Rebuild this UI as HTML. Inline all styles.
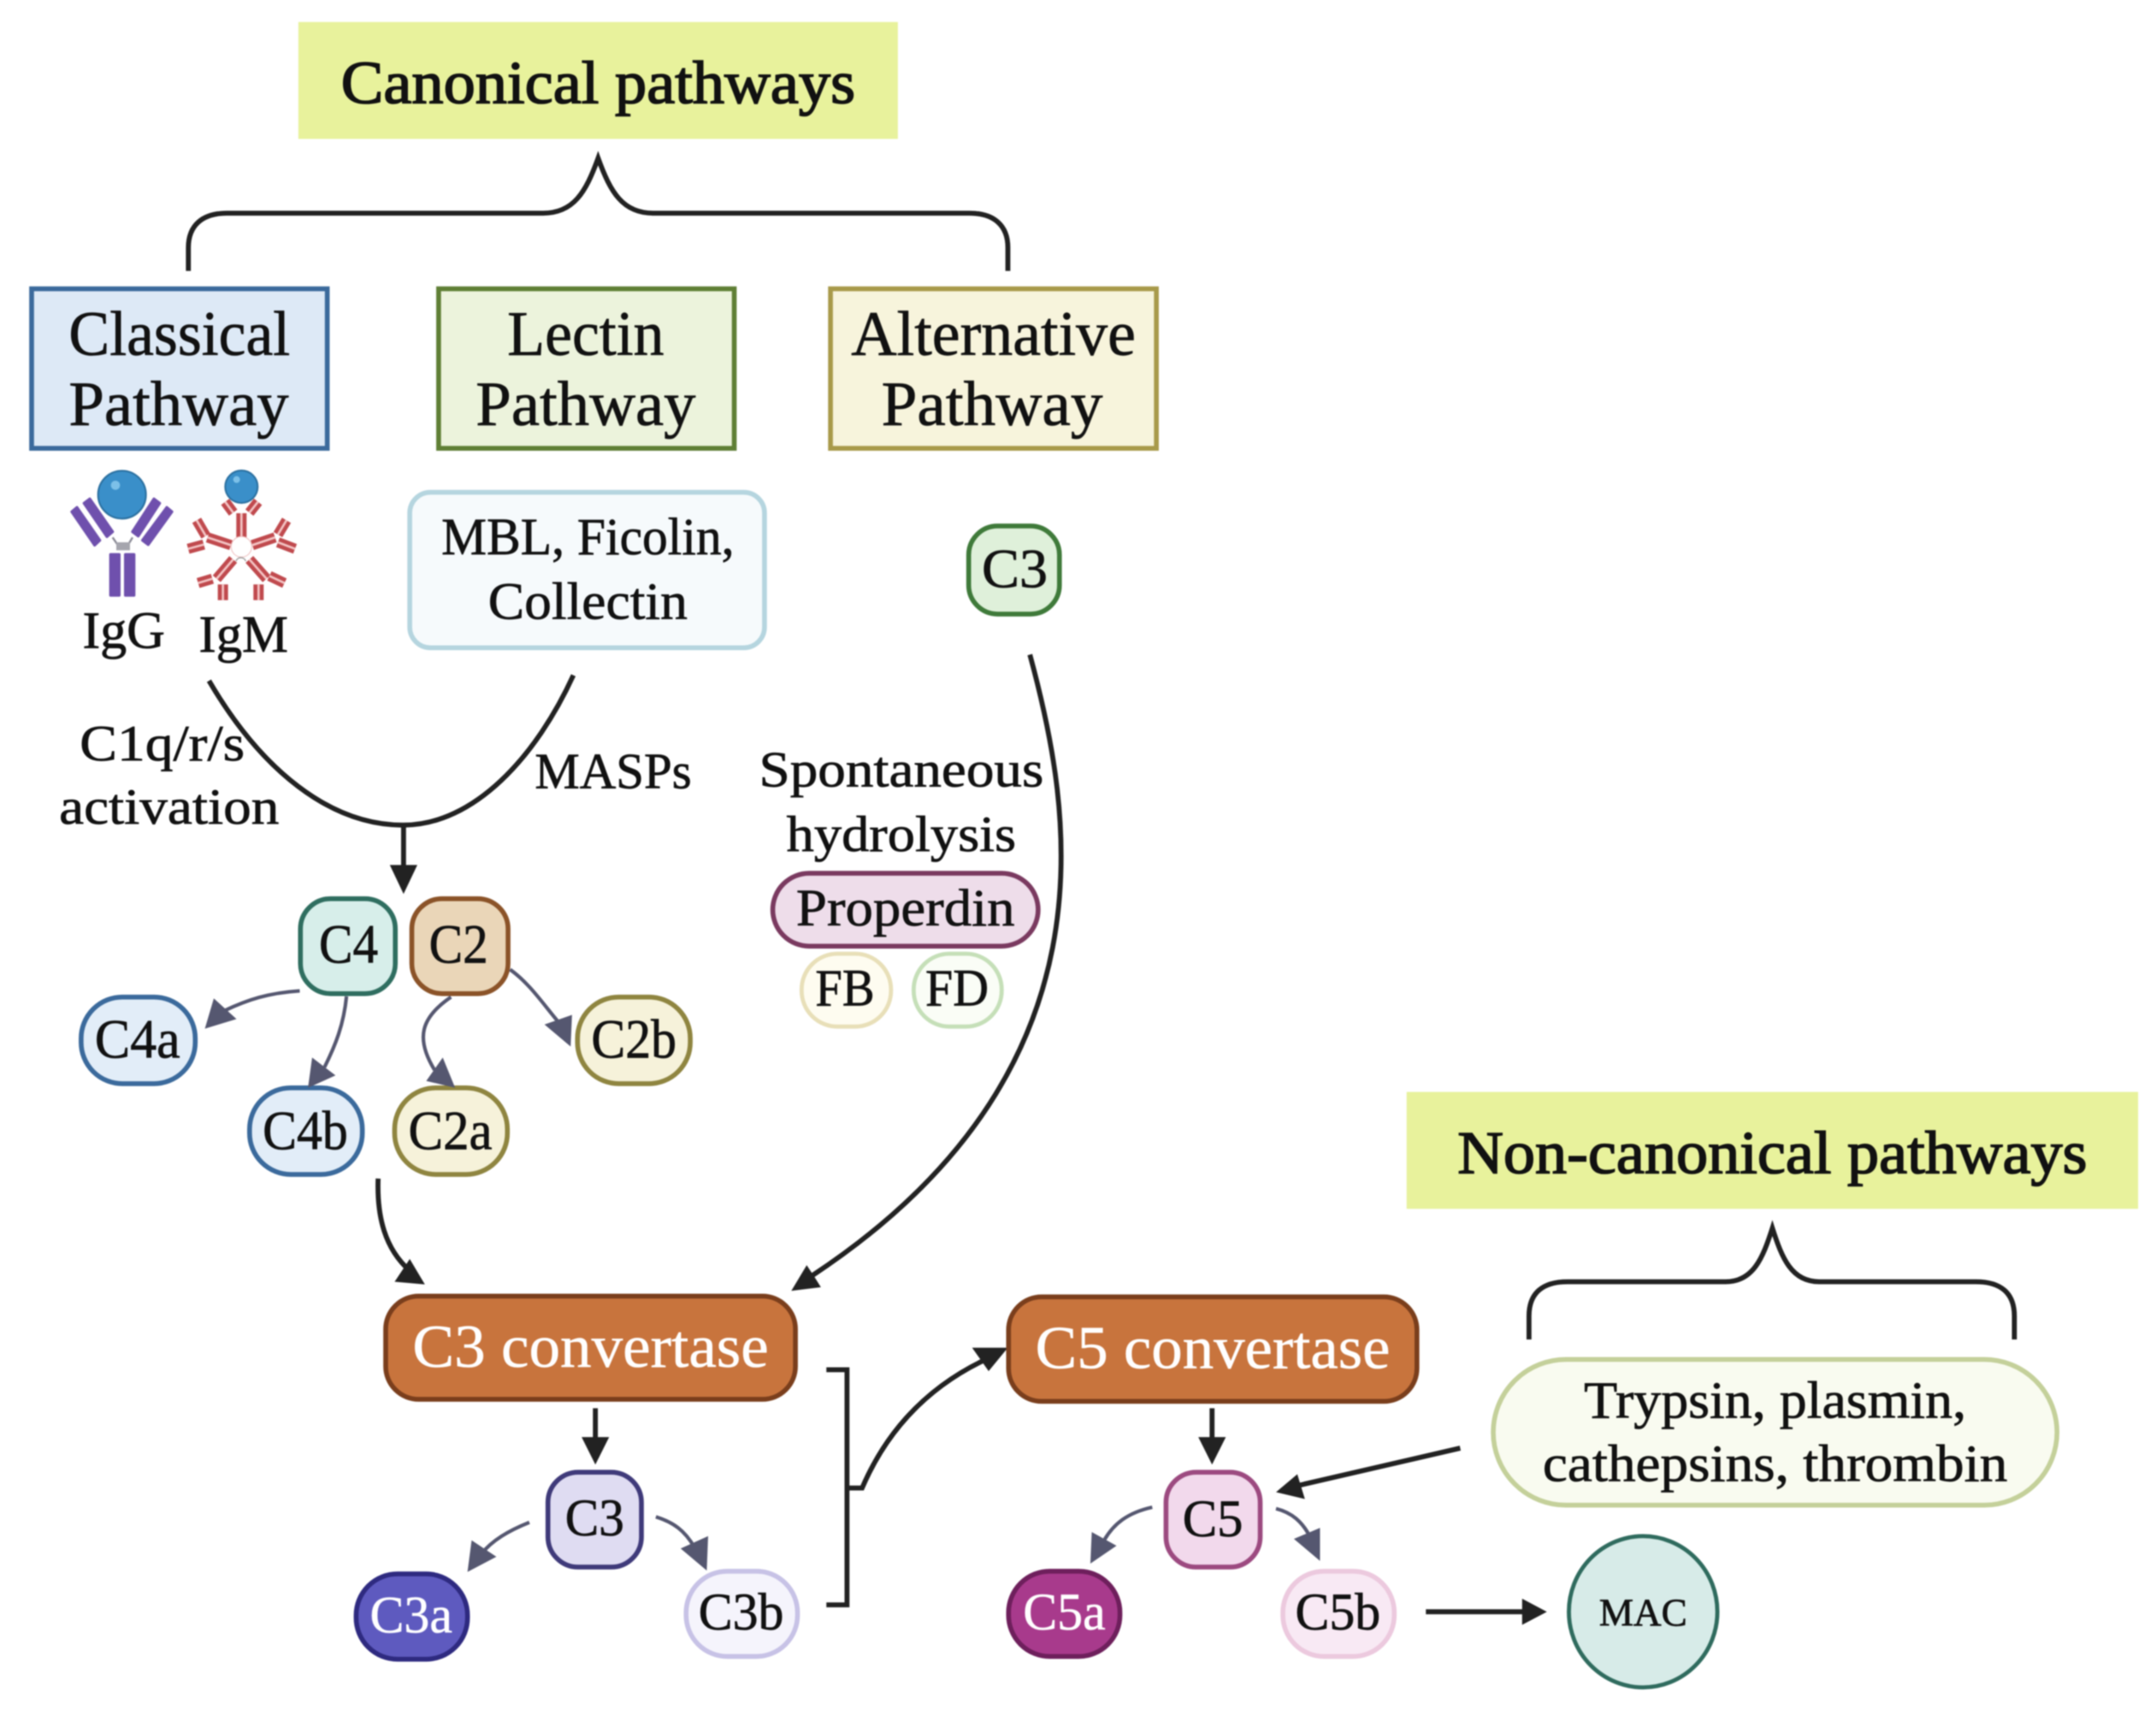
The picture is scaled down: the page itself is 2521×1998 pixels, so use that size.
<!DOCTYPE html>
<html><head><meta charset="utf-8"><style>
html,body{margin:0;padding:0;background:#fff;width:2521px;height:1998px;overflow:hidden}
svg{display:block;position:absolute;left:0;top:0;filter:blur(.9px)}
text{font-family:"Liberation Serif",serif;fill:#111;stroke:#111;stroke-width:.45}
.h{stroke-width:1}
.w{fill:#fff;stroke:#fff;stroke-width:.35}
.k{fill:none;stroke:#222;stroke-width:3.6}
.g{fill:none;stroke:#555770;stroke-width:2.6}
.ah{fill:#222}.ag{fill:#555770}
</style></head><body>
<svg width="2521" height="1998" viewBox="0 0 1568 1242.7" xmlns="http://www.w3.org/2000/svg">
<rect x="0" y="0" width="1568" height="1243" fill="#fff"/>

<!-- headers -->
<rect x="217" y="16" width="436" height="85" fill="#e8f29c"/>
<text class="h" x="248" y="75" font-size="44" textLength="374" lengthAdjust="spacingAndGlyphs">Canonical pathways</text>
<rect x="1023" y="794" width="532" height="85" fill="#e8f29c"/>
<text class="h" x="1060" y="853" font-size="44" textLength="458" lengthAdjust="spacingAndGlyphs">Non-canonical pathways</text>

<!-- braces -->
<path class="k" d="M137 197 L137 180 C137 164 147 155 165 155 L395 155 C417 155 426 140 435 115 C444 140 453 155 475 155 L705 155 C723 155 733 164 733 180 L733 197"/>
<path class="k" d="M1112 974 L1112 957 C1112 940 1122 932 1140 932 L1255 932 C1275 932 1282 915 1289 893 C1296 915 1303 932 1323 932 L1437 932 C1455 932 1465 940 1465 957 L1465 974"/>

<!-- pathway boxes -->
<rect x="23" y="210" width="215" height="116" fill="#dde9f6" stroke="#3b6a9c" stroke-width="3.5"/>
<text x="50" y="258" font-size="46" textLength="161" lengthAdjust="spacingAndGlyphs">Classical</text>
<text x="50" y="309" font-size="46" textLength="160" lengthAdjust="spacingAndGlyphs">Pathway</text>
<rect x="319" y="210" width="215" height="116" fill="#ecf3dc" stroke="#5f7f35" stroke-width="3.5"/>
<text x="369" y="258" font-size="46" textLength="114" lengthAdjust="spacingAndGlyphs">Lectin</text>
<text x="346" y="309" font-size="46" textLength="160" lengthAdjust="spacingAndGlyphs">Pathway</text>
<rect x="604" y="210" width="237" height="116" fill="#f7f4dc" stroke="#a89a4a" stroke-width="3.5"/>
<text x="619" y="258" font-size="46" textLength="207" lengthAdjust="spacingAndGlyphs">Alternative</text>
<text x="641" y="309" font-size="46" textLength="161" lengthAdjust="spacingAndGlyphs">Pathway</text>

<!-- antibodies -->
<g transform="scale(.62195) translate(50 530) scale(.33333)">
  <g fill="#6f50ad" stroke="#6f50ad" stroke-width="10" stroke-linejoin="round">
    <polygon points="102,205 120,190 200,305 182,322"/>
    <polygon points="145,175 165,160 245,275 225,292"/>
    <polygon points="315,275 335,290 410,175 390,160"/>
    <polygon points="350,305 370,320 453,205 435,190"/>
    <rect x="238" y="355" width="30" height="143"/>
    <rect x="290" y="355" width="30" height="143"/>
  </g>
  <path d="M245 295 L262 320 M315 295 L300 320" stroke="#8a8a95" stroke-width="7" fill="none"/>
  <rect x="258" y="312" width="48" height="28" fill="#a5a5ad"/>
  <circle cx="278" cy="145" r="84" fill="#3a8fc9" stroke="#2a6f9f" stroke-width="6"/>
  <circle cx="255" cy="112" r="16" fill="#7cc0e8"/>
  <g fill="none" stroke="#c04a4e" stroke-width="36">
    <path d="M697 210V295M640 170L668 208M755 170L725 208M660 322L578 295M572 290L540 235M565 320L510 335M735 322L815 295M825 285L855 235M825 312L885 335M668 372L610 440M595 440L545 455M632 460V515M725 372L785 440M795 430L848 455M757 460V515"/>
  </g>
  <g fill="none" stroke="#f3c4c4" stroke-width="8">
    <path d="M697 210V295M640 170L668 208M755 170L725 208M660 322L578 295M572 290L540 235M565 320L510 335M735 322L815 295M825 285L855 235M825 312L885 335M668 372L610 440M595 440L545 455M632 460V515M725 372L785 440M795 430L848 455M757 460V515"/>
  </g>
  <circle cx="697" cy="328" r="36" fill="#fff" stroke="#eebcbc" stroke-width="3"/>
  <path d="M678 378 A18 18 0 0 1 712 378" fill="#fff" stroke="#999" stroke-width="4"/>
  <circle cx="697" cy="117" r="57" fill="#3a8fc9" stroke="#2a6f9f" stroke-width="6"/>
  <circle cx="680" cy="92" r="12" fill="#7cc0e8"/>
</g>
<text x="60" y="471" font-size="38" textLength="60" lengthAdjust="spacingAndGlyphs">IgG</text>
<text x="144.600" y="474" font-size="38" textLength="65" lengthAdjust="spacingAndGlyphs">IgM</text>

<!-- MBL -->
<rect x="298" y="358" width="258" height="113" rx="15" fill="#f6fafc" stroke="#b5d5df" stroke-width="3.5"/>
<text x="321" y="403" font-size="38" textLength="213" lengthAdjust="spacingAndGlyphs">MBL, Ficolin,</text>
<text x="355" y="450" font-size="38" textLength="145" lengthAdjust="spacingAndGlyphs">Collectin</text>

<!-- top C3 -->
<rect x="704.500" y="382.500" width="66" height="64" rx="21" fill="#dff0da" stroke="#3f7a3a" stroke-width="3.5"/>
<text x="714" y="427" font-size="40" textLength="48" lengthAdjust="spacingAndGlyphs">C3</text>

<!-- U connector -->
<path class="k" d="M152 495 C190 560 240 600 293 600 C345 600 390 550 417 491"/>
<path class="k" d="M293.500 600 V632"/>
<polygon class="ah" points="283.500,629 303.500,629 293.500,650"/>
<text x="58" y="553" font-size="37" textLength="120" lengthAdjust="spacingAndGlyphs">C1q/r/s</text>
<text x="43" y="599" font-size="37" textLength="160" lengthAdjust="spacingAndGlyphs">activation</text>
<text x="389" y="573" font-size="37" textLength="114" lengthAdjust="spacingAndGlyphs">MASPs</text>

<!-- alternative -->
<text x="552" y="572" font-size="37" textLength="207" lengthAdjust="spacingAndGlyphs">Spontaneous</text>
<text x="572" y="619" font-size="37" textLength="167" lengthAdjust="spacingAndGlyphs">hydrolysis</text>
<rect x="562" y="635" width="193" height="53" rx="26.500" fill="#eeddea" stroke="#7a3a60" stroke-width="3.5"/>
<text x="579" y="673" font-size="38" textLength="159" lengthAdjust="spacingAndGlyphs">Properdin</text>
<rect x="583" y="693.500" width="65" height="53" rx="26" fill="#fefcf0" stroke="#e8dfb8" stroke-width="3"/>
<text x="593" y="731" font-size="38" textLength="43" lengthAdjust="spacingAndGlyphs">FB</text>
<rect x="664.500" y="693.500" width="64" height="53" rx="26" fill="#fafdf6" stroke="#c5dfb8" stroke-width="3"/>
<text x="673" y="731" font-size="38" textLength="46" lengthAdjust="spacingAndGlyphs">FD</text>

<path class="k" d="M749 476 C780 590 815 780 590 928"/>
<polygon class="ah" points="575.500,938.600 586.700,920 592,928 597,936"/>

<!-- C4/C2 -->
<rect x="218.500" y="653.500" width="69" height="69" rx="22" fill="#d7eeea" stroke="#2f6e60" stroke-width="3.5"/>
<text x="232" y="700" font-size="40" textLength="43" lengthAdjust="spacingAndGlyphs">C4</text>
<rect x="299.500" y="653.500" width="70" height="69" rx="22" fill="#ead6b8" stroke="#8b5328" stroke-width="3.5"/>
<text x="312" y="700" font-size="40" textLength="43" lengthAdjust="spacingAndGlyphs">C2</text>
<rect x="59" y="725" width="83" height="63" rx="30" fill="#e2edf8" stroke="#3b6a9c" stroke-width="3.5"/>
<text x="69" y="769" font-size="40" textLength="62" lengthAdjust="spacingAndGlyphs">C4a</text>
<rect x="181.500" y="791" width="82" height="63" rx="30" fill="#e2edf8" stroke="#3b6a9c" stroke-width="3.5"/>
<text x="191" y="835.500" font-size="40" textLength="62" lengthAdjust="spacingAndGlyphs">C4b</text>
<rect x="287" y="791" width="82" height="63" rx="30" fill="#f6f2da" stroke="#8f8540" stroke-width="3.5"/>
<text x="297" y="835.500" font-size="40" textLength="61" lengthAdjust="spacingAndGlyphs">C2a</text>
<rect x="420" y="725" width="82" height="63" rx="30" fill="#f6f2da" stroke="#8f8540" stroke-width="3.5"/>
<text x="430" y="769" font-size="40" textLength="62" lengthAdjust="spacingAndGlyphs">C2b</text>

<path class="g" d="M218 720.500 C195 722 180 727 163 735"/>
<polygon class="ag" points="149,748 155.500,726 172,741"/>
<path class="g" d="M252 724.500 C250 745 244 760 236 776"/>
<polygon class="ag" points="224,791 227,769 244,782"/>
<path class="g" d="M328 725 C306 740 302 755 316 778"/>
<polygon class="ag" points="331,791 322,769 310,786"/>
<path class="g" d="M371 705 C385 715 395 730 406 743"/>
<polygon class="ag" points="415,761 396,745 416,738"/>

<path class="k" d="M275 857 C274 885 280 908 298 924"/>
<polygon class="ah" points="309,934 298,915.500 287,932"/>

<!-- C3 convertase -->
<rect x="280.500" y="942.500" width="298" height="75" rx="24" fill="#c8743d" stroke="#7a3e1c" stroke-width="3.5"/>
<text class="w" x="300" y="994" font-size="44" textLength="259" lengthAdjust="spacingAndGlyphs">C3 convertase</text>
<path class="k" d="M433 1024 V1048"/>
<polygon class="ah" points="423,1045 443,1045 433,1065"/>
<rect x="398.500" y="1070.500" width="68" height="69" rx="22" fill="#dfdcf2" stroke="#3f3a7a" stroke-width="3.5"/>
<text x="411" y="1116.500" font-size="38" textLength="43" lengthAdjust="spacingAndGlyphs">C3</text>
<rect x="259" y="1144.500" width="81" height="62" rx="30" fill="#5e5abf" stroke="#2e2a80" stroke-width="3.5"/>
<text class="w" x="269" y="1187" font-size="38" textLength="60" lengthAdjust="spacingAndGlyphs">C3a</text>
<rect x="499" y="1142.500" width="81" height="62" rx="30" fill="#f5f4fc" stroke="#c7c2e6" stroke-width="3.5"/>
<text x="508" y="1185" font-size="38" textLength="62" lengthAdjust="spacingAndGlyphs">C3b</text>
<path class="g" d="M385 1107 C370 1113 358 1120 350 1130"/>
<polygon class="ag" points="340,1143 343,1120 361,1132"/>
<path class="g" d="M477 1103 C490 1107 498 1113 505 1125"/>
<polygon class="ag" points="514,1142 495,1126 515,1117"/>

<!-- bracket -->
<path class="k" d="M601 996 H616 V1167 H601"/>
<path class="k" d="M617 1082 H627 C645 1040 675 1008 718 988"/>
<polygon class="ah" points="733,980 707,980 719,997"/>

<!-- C5 convertase -->
<rect x="733.500" y="943" width="297" height="76" rx="24" fill="#c8743d" stroke="#7a3e1c" stroke-width="3.5"/>
<text class="w" x="753" y="995" font-size="44" textLength="258" lengthAdjust="spacingAndGlyphs">C5 convertase</text>
<path class="k" d="M881.500 1024 V1048"/>
<polygon class="ah" points="871.500,1045 891.500,1045 881.500,1065"/>
<rect x="848" y="1070.500" width="68.500" height="69" rx="22" fill="#f2d9ec" stroke="#9c4a80" stroke-width="3.5"/>
<text x="860" y="1117" font-size="38" textLength="44" lengthAdjust="spacingAndGlyphs">C5</text>
<rect x="733.500" y="1142.500" width="81" height="62" rx="30" fill="#a83a8c" stroke="#6e1f5c" stroke-width="3.5"/>
<text class="w" x="744" y="1185" font-size="38" textLength="60" lengthAdjust="spacingAndGlyphs">C5a</text>
<rect x="933" y="1142.500" width="81" height="62" rx="30" fill="#f8e9f4" stroke="#ecc9de" stroke-width="3.5"/>
<text x="942" y="1185" font-size="38" textLength="62" lengthAdjust="spacingAndGlyphs">C5b</text>
<path class="g" d="M838 1096 C820 1100 810 1108 803 1120"/>
<polygon class="ag" points="793,1137 794,1114 812,1124"/>
<path class="g" d="M928 1097 C940 1100 947 1107 952 1116"/>
<polygon class="ag" points="960,1135 941,1119 960,1111"/>

<path class="k" d="M1062 1053 L945 1080"/>
<polygon class="ah" points="928,1085 943.500,1072 949,1090"/>

<!-- trypsin -->
<rect x="1086" y="988.500" width="410" height="106" rx="53" fill="#f9fbf0" stroke="#c4d09a" stroke-width="3.5"/>
<text x="1152" y="1031" font-size="38" textLength="278" lengthAdjust="spacingAndGlyphs">Trypsin, plasmin,</text>
<text x="1122" y="1077" font-size="38" textLength="338" lengthAdjust="spacingAndGlyphs">cathepsins, thrombin</text>

<!-- MAC -->
<path class="k" d="M1037 1172 H1110"/>
<polygon class="ah" points="1107,1162.500 1107,1181.500 1125,1172"/>
<ellipse cx="1195" cy="1172" rx="54" ry="55" fill="#d7ebe8" stroke="#2f6b5e" stroke-width="3"/>
<text x="1163" y="1182" font-size="28" textLength="64" lengthAdjust="spacingAndGlyphs">MAC</text>
</svg>
</body></html>
